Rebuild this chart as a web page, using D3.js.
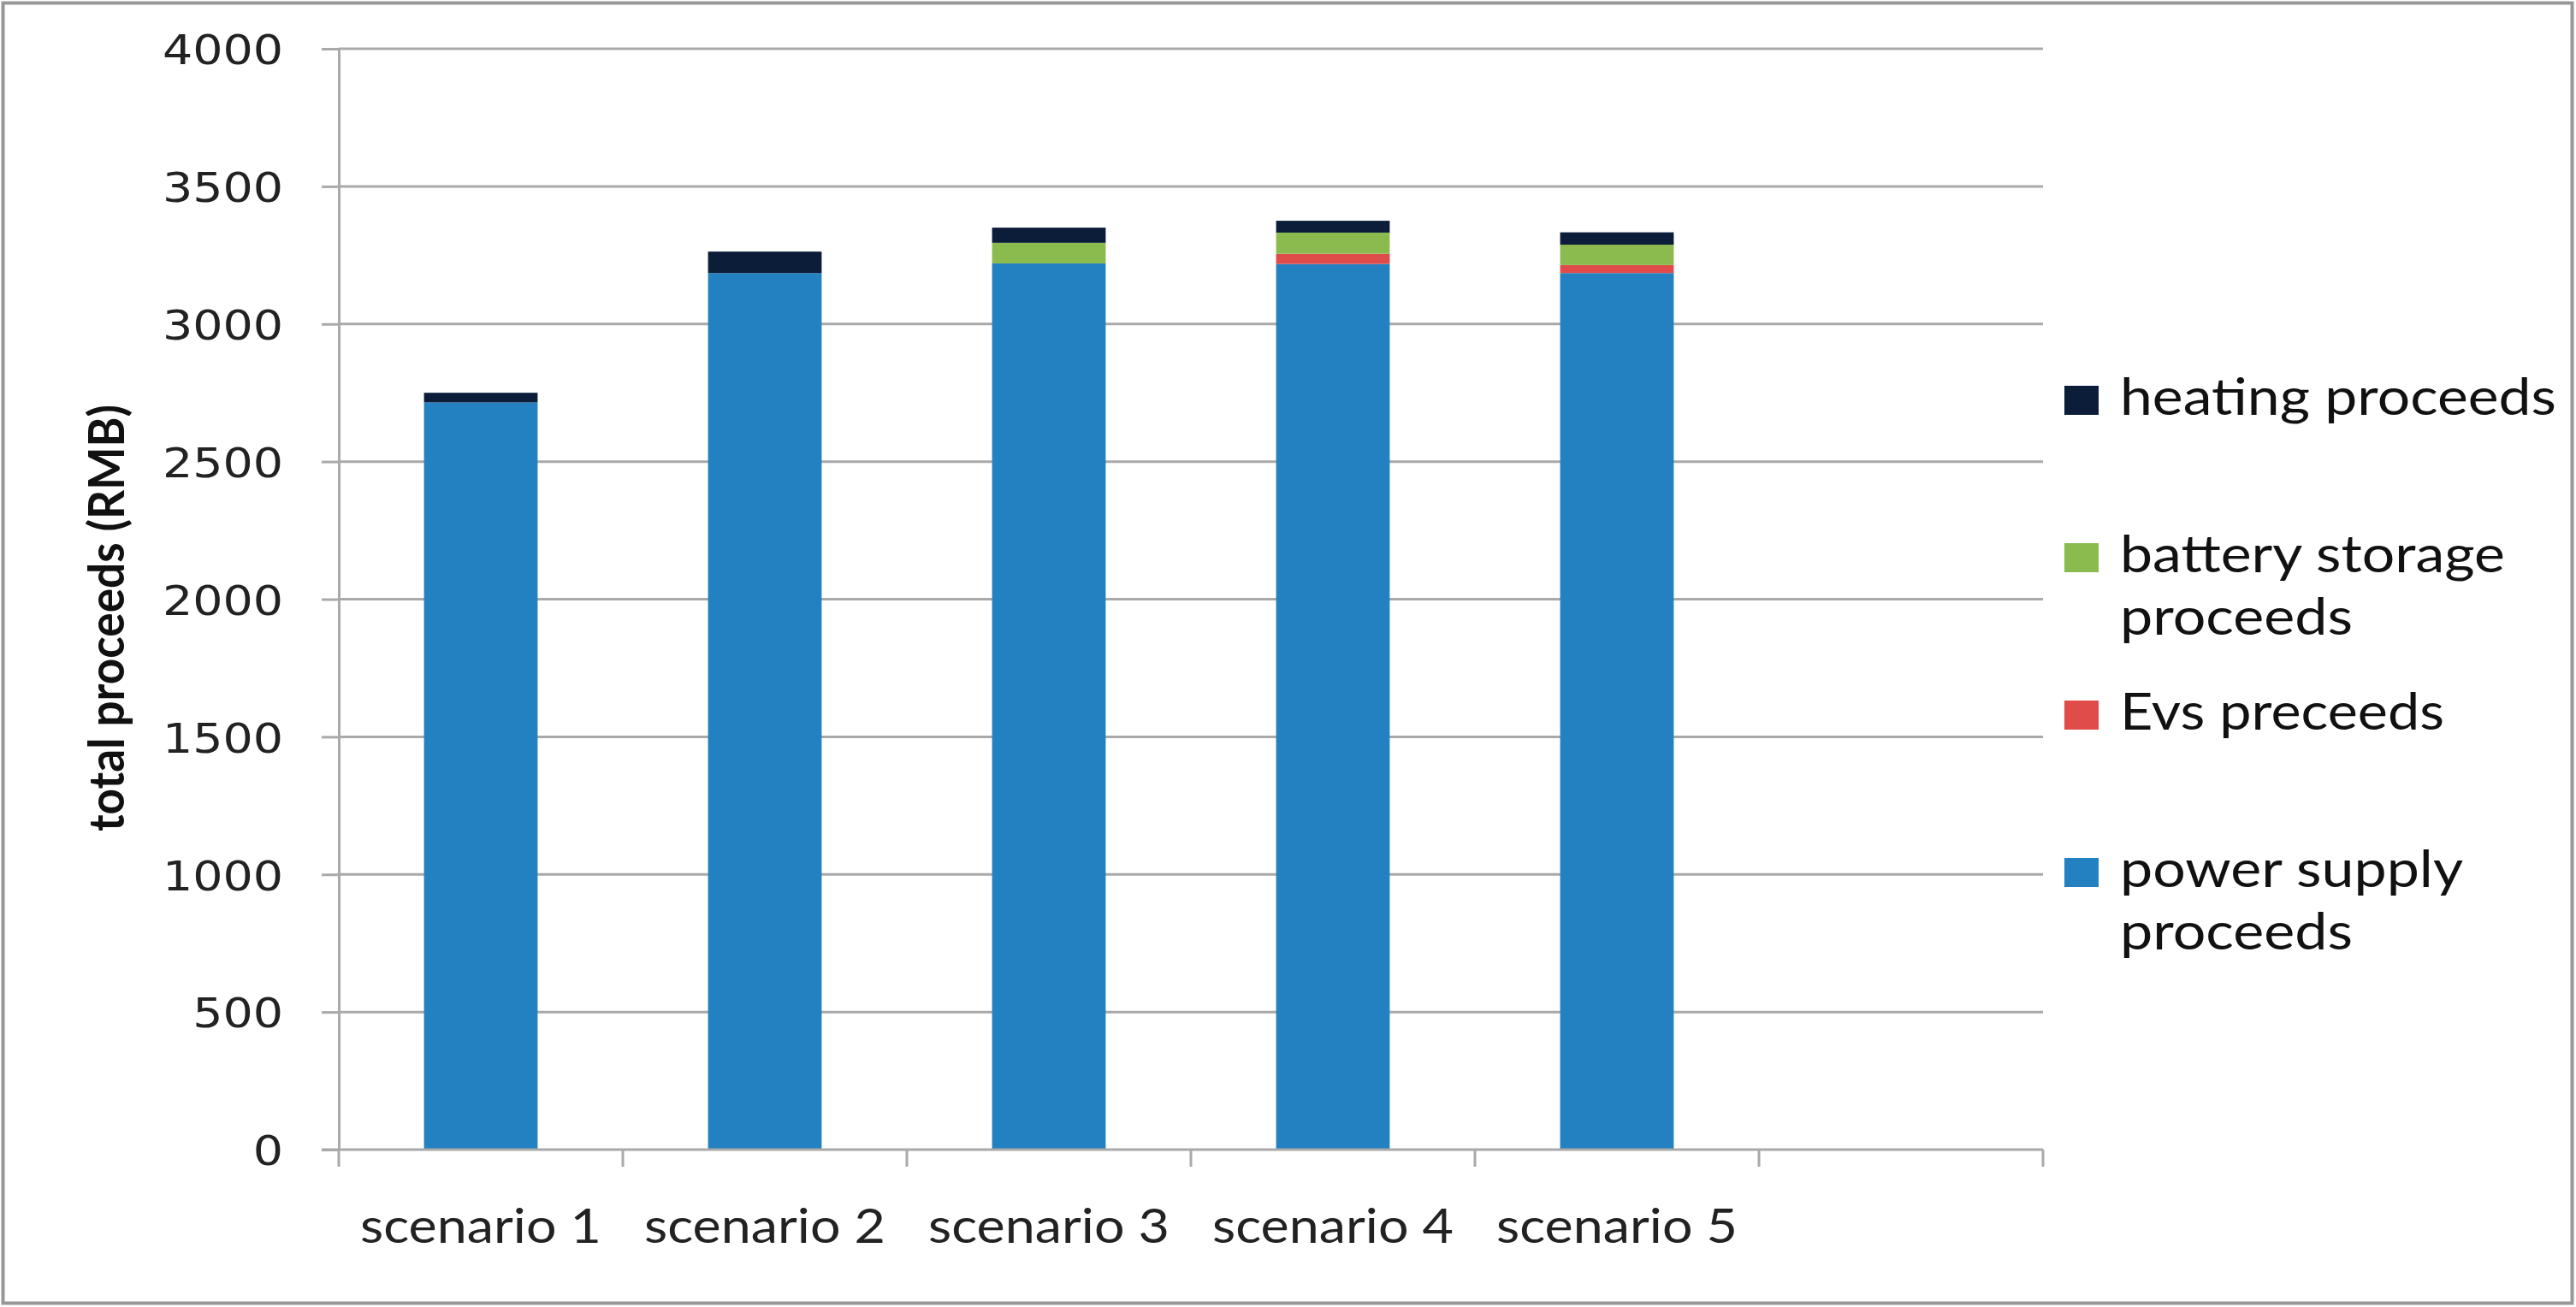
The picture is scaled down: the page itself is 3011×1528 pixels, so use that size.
<!DOCTYPE html>
<html>
<head>
<meta charset="utf-8">
<script src="https://cdn.jsdelivr.net/npm/d3@7/dist/d3.min.js"></script>
<style>
  html, body { margin: 0; padding: 0; background: #fff; }
  svg { display: block; }
</style>
</head>
<body>
<svg id="chart" width="3011" height="1528"></svg>
<script>
// ---------------- data ----------------
const categories = ["scenario 1", "scenario 2", "scenario 3", "scenario 4", "scenario 5"];
const powerSupply = [2715, 3185, 3220, 3218, 3185];
const evs         = [0, 0, 0, 37, 29];
const battery     = [0, 0, 75, 77, 74];
const heating     = [35, 78, 55, 43, 45];
const seriesNames = ["power supply proceeds", "Evs preceeds", "battery storage proceeds", "heating proceeds"];
const legendLines = [["heating proceeds"], ["battery storage", "proceeds"], ["Evs preceeds"], ["power supply", "proceeds"]];
const yTicks = [0, 500, 1000, 1500, 2000, 2500, 3000, 3500, 4000];
const yTitle = "total proceeds (RMB)";

// ---------------- layout / style ----------------
const W = 3011, H = 1528;
const plot = { left: 396, right: 2388, top: 57, bottom: 1344 };
const colors = ["#2481c1", "#e04c4a", "#8bbb4e", "#0b1d38"];
const gridColor = "#a9a9a9";
const stretch = 1.155;

const svg = d3.select("#chart");

// frame
svg.append("rect").attr("x", 3.5).attr("y", 3.5).attr("width", W - 8).attr("height", H - 8)
  .attr("fill", "#fff").attr("stroke", "#979797").attr("stroke-width", 4);

const slots = [...categories, " "];
const x = d3.scaleBand().domain(slots).range([plot.left, plot.right]).paddingInner(0.6).paddingOuter(0.3);
const y = d3.scaleLinear().domain([0, 4000]).range([plot.bottom, plot.top]);

// gridlines
svg.append("g").selectAll("line").data(yTicks.filter(d => d > 0)).join("line")
  .attr("x1", plot.left).attr("x2", plot.right)
  .attr("y1", d => y(d)).attr("y2", d => y(d))
  .attr("stroke", gridColor).attr("stroke-width", 3);

// stacked bars
const rows = categories.map((c, i) => ({
  cat: c, s0: powerSupply[i], s1: evs[i], s2: battery[i], s3: heating[i]
}));
const stack = d3.stack().keys(["s0", "s1", "s2", "s3"]);
const stacked = stack(rows);
svg.append("g").selectAll("g").data(stacked).join("g")
  .attr("fill", (d, i) => colors[i])
  .selectAll("rect").data(d => d).join("rect")
  .attr("x", d => x(d.data.cat))
  .attr("width", x.bandwidth())
  .attr("y", d => y(d[1]))
  .attr("height", d => Math.max(0, y(d[0]) - y(d[1])));

// y axis
const yAxis = svg.append("g").attr("transform", `translate(${plot.left},0)`)
  .call(d3.axisLeft(y).tickValues(yTicks).tickFormat(d3.format("d"))
    .tickSize(20).tickPadding(45).tickSizeOuter(0));
yAxis.select(".domain").attr("stroke", gridColor).attr("stroke-width", 3);
yAxis.selectAll(".tick line").attr("stroke", gridColor).attr("stroke-width", 3);
yAxis.selectAll(".tick text")
  .attr("font-family", "DejaVu Sans").attr("font-size", 48).attr("fill", "#222")
  .attr("dy", "0.37em")
  .each(function () {
    const len = this.getComputedTextLength();
    d3.select(this).attr("textLength", len * stretch).attr("lengthAdjust", "spacingAndGlyphs");
  });

// x axis line
svg.append("line").attr("x1", plot.left - 20).attr("x2", plot.right)
  .attr("y1", plot.bottom).attr("y2", plot.bottom)
  .attr("stroke", gridColor).attr("stroke-width", 3);
// x boundary ticks
const step = x.step();
const bounds = slots.map(s => x(s) - step * x.paddingInner() / 2).concat([plot.right]);
svg.append("g").selectAll("line").data(bounds).join("line")
  .attr("x1", d => d).attr("x2", d => d)
  .attr("y1", plot.bottom).attr("y2", plot.bottom + 20)
  .attr("stroke", gridColor).attr("stroke-width", 3);

// x labels
svg.append("g").selectAll("text").data(categories).join("text")
  .attr("x", d => x(d) + x.bandwidth() / 2)
  .attr("y", 1453)
  .attr("text-anchor", "middle")
  .attr("font-family", "Lato").attr("font-size", 56).attr("fill", "#222")
  .attr("textLength", 282).attr("lengthAdjust", "spacingAndGlyphs")
  .text(d => d);

// y title
svg.append("text")
  .attr("transform", `translate(145,${(473 + 972) / 2}) rotate(-90)`)
  .attr("text-anchor", "middle")
  .attr("font-family", "Lato").attr("font-weight", "bold").attr("font-size", 58)
  .attr("fill", "#111")
  .attr("textLength", 499).attr("lengthAdjust", "spacingAndGlyphs")
  .text(yTitle);

// legend
const legendWidths = { "heating proceeds": 510, "battery storage": 450, "proceeds": 272, "Evs preceeds": 379, "power supply": 401 };
const legendColors = [colors[3], colors[2], colors[1], colors[0]];
const lg = svg.append("g");
legendLines.forEach((lines, i) => {
  const base = 485 + i * 184;
  lg.append("rect").attr("x", 2413).attr("y", base - 34).attr("width", 40).attr("height", 34)
    .attr("fill", legendColors[i]);
  lines.forEach((t, j) => {
    lg.append("text").attr("x", 2478).attr("y", base + j * 73)
      .attr("font-family", "Lato").attr("font-size", 60).attr("fill", "#111")
      .attr("textLength", legendWidths[t]).attr("lengthAdjust", "spacingAndGlyphs")
      .text(t);
  });
});
</script>
</body>
</html>
